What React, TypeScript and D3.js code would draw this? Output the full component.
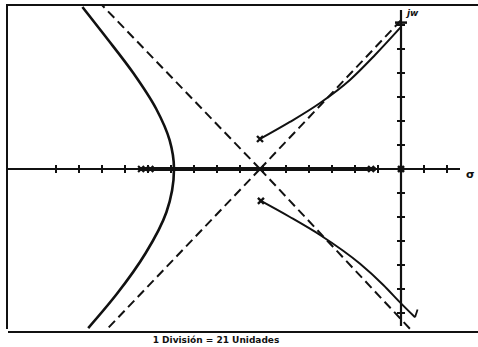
import React from "react";
import * as d3 from "d3";

// Root locus traced on a grid where 1 division = 21 units (values below in divisions)
const leftBranch: [number, number][] = [
  [-13.85, 6.75], [-12.83, 5.5], [-11.64, 4.0], [-10.64, 2.5], [-10.06, 1.2],
  [-9.87, 0], [-10.2, -1.8], [-11.1, -3.5], [-12.35, -5.2], [-13.6, -6.63],
];
const upperBranch: [number, number][] = [
  [-6.13, 1.25], [-4.83, 1.96], [-3.52, 2.75], [-2.22, 3.71], [-1.13, 4.75], [0, 5.92],
];
const lowerBranch: [number, number][] = [
  [-6.09, -1.33], [-4.83, -2.0], [-3.52, -2.75], [-1.78, -3.95], [-0.78, -4.82], [0, -5.6], [0.61, -6.18],
];
const centroid: [number, number] = [-6.13, 0];
const asymptoteEnds: [number, number][] = [
  [-13.0, 6.83], [0.13, 6.33], [-12.74, -6.63], [0.43, -6.7],
];
const complexPoles: [number, number][] = [[-6.13, 1.25], [-6.09, -1.33]];
const realPoles: number[] = [-11.3, -10.9, -1.3, 0];
const realLocusSpan: [number, number] = [-11.4, -1.1];
const realTicks: number[] = d3.range(-15, 3);
const imagTicks: number[] = d3.range(-6, 7).filter((v) => v !== 0);
const caption = "1 División = 21 Unidades";

const W = 478;
const H = 347;

export default function App() {
  const x = d3.scaleLinear().domain([0, 1]).range([401, 424]);
  const y = d3.scaleLinear().domain([0, 1]).range([169, 145]);
  const lineY = d3
    .line<[number, number]>()
    .x((d) => x(d[0]))
    .y((d) => y(d[1]))
    .curve(d3.curveMonotoneY);
  const lineX = d3
    .line<[number, number]>()
    .x((d) => x(d[0]))
    .y((d) => y(d[1]))
    .curve(d3.curveMonotoneX);

  const cross = (cx: number, cy: number, s: number) =>
    `M${cx - s},${cy - s}L${cx + s},${cy + s}M${cx - s},${cy + s}L${cx + s},${cy - s}`;

  return (
    <div style={{ position: "fixed", left: 0, top: 0, width: W, height: H, background: "#fff" }}>
      <svg width={W} height={H} style={{ display: "block" }}>
        <rect width={W} height={H} fill="#fff" />
        {/* frame */}
        <line x1={6} y1={5} x2={478} y2={5} stroke="#111" strokeWidth={2} />
        <line x1={7} y1={5} x2={7} y2={329} stroke="#111" strokeWidth={2} />
        <line x1={8} y1={332} x2={478} y2={332} stroke="#111" strokeWidth={2} />

        {/* real axis */}
        <line x1={7} y1={y(0)} x2={460} y2={y(0)} stroke="#111" strokeWidth={2} />
        <line x1={x(realLocusSpan[0])} y1={y(0)} x2={x(realLocusSpan[1])} y2={y(0)} stroke="#111" strokeWidth={4} />
        {realTicks.map((t) => (
          <line key={`rt${t}`} x1={x(t)} y1={y(0) - 4} x2={x(t)} y2={y(0) + 4} stroke="#111" strokeWidth={2} />
        ))}

        {/* imaginary axis */}
        <line x1={x(0)} y1={10} x2={x(0)} y2={326} stroke="#111" strokeWidth={2.2} />
        {imagTicks.map((t) => (
          <line key={`it${t}`} x1={x(0) - 4} y1={y(t)} x2={x(0) + 4} y2={y(t)} stroke="#111" strokeWidth={2} />
        ))}
        <line x1={x(0) - 6} y1={y(6.1)} x2={x(0) + 6} y2={y(6.1)} stroke="#111" strokeWidth={2.5} />

        {/* asymptotes */}
        {asymptoteEnds.map((e, i) => (
          <line
            key={`as${i}`}
            x1={x(centroid[0])}
            y1={y(centroid[1])}
            x2={x(e[0])}
            y2={y(e[1])}
            stroke="#111"
            strokeWidth={2}
            strokeDasharray="9 5"
          />
        ))}

        {/* locus branches */}
        <path d={lineY(leftBranch) ?? ""} fill="none" stroke="#111" strokeWidth={2.6} />
        <path d={lineX(upperBranch) ?? ""} fill="none" stroke="#111" strokeWidth={2} />
        <path d={lineX(lowerBranch) ?? ""} fill="none" stroke="#111" strokeWidth={2} />
        {/* arrow tip at the lower end */}
        <path
          d={`M${x(0.61)},${y(-6.18)}L${x(0.72)},${y(-5.85)}`}
          fill="none"
          stroke="#111"
          strokeWidth={1.8}
        />

        {/* poles */}
        {complexPoles.map((p, i) => (
          <path key={`cp${i}`} d={cross(x(p[0]), y(p[1]), 3)} stroke="#111" strokeWidth={2.4} />
        ))}
        {realPoles.map((p, i) => (
          <path key={`rp${i}`} d={cross(x(p), y(0), 3)} stroke="#111" strokeWidth={2.2} />
        ))}
        <circle cx={x(0)} cy={y(0)} r={3.5} fill="#111" />

        {/* axis labels */}
        <text x={407} y={16} fontFamily="DejaVu Sans" fontSize={9} fontWeight="bold" fontStyle="italic" fill="#111">
          jw
        </text>
        <text x={466} y={178} fontFamily="DejaVu Sans" fontSize={11} fontWeight="bold" fill="#111">
          σ
        </text>
        <text
          x={216}
          y={343}
          textAnchor="middle"
          fontFamily="DejaVu Sans"
          fontSize={9}
          fontWeight="bold"
          fill="#111"
        >
          {caption}
        </text>
      </svg>
    </div>
  );
}
